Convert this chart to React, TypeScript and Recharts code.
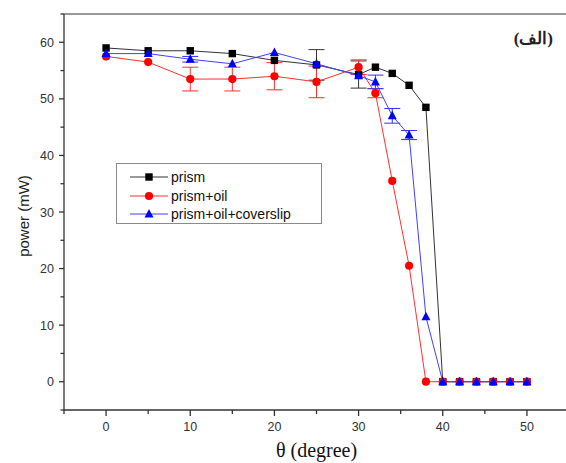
import React from "react";
import { LineChart, Line, XAxis, YAxis, ErrorBar, Legend } from "recharts";

const angles = [0, 5, 10, 15, 20, 25, 30, 32, 34, 36, 38, 40, 42, 44, 46, 48, 50];
const prism = [59.0, 58.5, 58.5, 58.0, 56.8, 56.0, 54.3, 55.6, 54.5, 52.4, 48.5, 0, 0, 0, 0, 0, 0];
const prismOil = [57.5, 56.5, 53.5, 53.5, 54.0, 53.0, 55.6, 51.0, 35.5, 20.5, 0, 0, 0, 0, 0, 0, 0];
const prismOilCover = [58.0, 58.0, 57.0, 56.2, 58.2, 56.2, 54.1, 53.0, 47.0, 43.6, 11.5, 0, 0, 0, 0, 0, 0];
const prismErr = [null, null, null, null, null, 2.7, 2.4, null, null, null, null, null, null, null, null, null, null];
const prismOilErr = [null, null, 2.1, 2.1, 2.4, 2.8, 1.3, 0.8, null, null, null, null, null, null, null, null, null];
const prismOilCoverErr = [null, null, 0.5, null, null, null, null, 1.2, 1.3, 0.8, null, null, null, null, null, null, null];

const xTicks = [-5, 0, 5, 10, 15, 20, 25, 30, 35, 40, 45, 50, 55];
const yTicks = [-5, 0, 5, 10, 15, 20, 25, 30, 35, 40, 45, 50, 55, 60, 65];
const xLabels = [0, 10, 20, 30, 40, 50];
const yLabels = [0, 10, 20, 30, 40, 50, 60];

const seriesNames = ["prism", "prism+oil", "prism+oil+coverslip"];
const seriesColors = ["#000000", "#ff0000", "#0000ff"];
const lineColors = ["#333333", "#ff3030", "#4040ff"];
const errColors = ["#333333", "#ff3030", "#3030ff"];

const data = angles.map((a, i) => ({
  angle: a,
  prism: prism[i],
  prismOil: prismOil[i],
  prismOilCover: prismOilCover[i],
  prismErr: prismErr[i],
  prismOilErr: prismOilErr[i],
  prismOilCoverErr: prismOilCoverErr[i],
}));

const FONT = "'Liberation Sans', Arial, sans-serif";

function Marker({ kind, cx, cy, color }: { kind: number; cx: number; cy: number; color: string }) {
  if (kind === 0) return <rect x={cx - 3.7} y={cy - 3.7} width={7.4} height={7.4} fill={color} />;
  if (kind === 1) return <circle cx={cx} cy={cy} r={4.1} fill={color} />;
  return <polygon points={`${cx},${cy - 5} ${cx - 4.5},${cy + 3.5} ${cx + 4.5},${cy + 3.5}`} fill={color} />;
}

const makeDot = (kind: number) => (props: any) => {
  const { cx, cy, index } = props;
  if (cx == null || cy == null) return <g key={`d${kind}-${index}`} />;
  return (
    <g key={`d${kind}-${index}`}>
      <Marker kind={kind} cx={cx} cy={cy} color={seriesColors[kind]} />
    </g>
  );
};

const XTick = (props: any) => {
  const { x, y, payload } = props;
  const v = payload.value;
  const major = v % 10 === 0;
  return (
    <g>
      <line x1={x} y1={y} x2={x} y2={y + (major ? 6 : 4)} stroke="#333" strokeWidth={1.3} />
      {xLabels.includes(v) && (
        <text x={x} y={y + 21} textAnchor="middle" fontSize={12.5} fontFamily={FONT} fill="#333">
          {v}
        </text>
      )}
    </g>
  );
};

const YTick = (props: any) => {
  const { x, y, payload } = props;
  const v = payload.value;
  const major = v % 10 === 0;
  return (
    <g>
      <line x1={x - (major ? 5 : 3.5)} y1={y} x2={x} y2={y} stroke="#333" strokeWidth={1.3} />
      {yLabels.includes(v) && (
        <text x={x - 10} y={y + 4.5} textAnchor="end" fontSize={12.5} fontFamily={FONT} fill="#333">
          {v}
        </text>
      )}
    </g>
  );
};

const LegendBox = () => (
  <div
    style={{
      width: 206,
      height: 61,
      border: "1px solid #8a8a8a",
      background: "#fff",
      boxSizing: "border-box",
      position: "relative",
    }}
  >
    {seriesNames.map((name, i) => (
      <div key={name} style={{ position: "absolute", left: 0, top: 4 + i * 18.5, height: 18, width: 206 }}>
        <svg width={52} height={18} style={{ position: "absolute", left: 0, top: 0 }}>
          <line x1={13} y1={9} x2={51} y2={9} stroke={lineColors[i]} strokeWidth={1} />
          <Marker kind={i} cx={32} cy={9} color={seriesColors[i]} />
        </svg>
        <span
          style={{
            position: "absolute",
            left: 54,
            top: 0,
            lineHeight: "18px",
            fontSize: 14,
            fontFamily: FONT,
            color: "#111",
            whiteSpace: "nowrap",
          }}
        >
          {name}
        </span>
      </div>
    ))}
  </div>
);

export default function App() {
  return (
    <div style={{ position: "absolute", left: 0, top: 0, width: 566, height: 463, overflow: "hidden", background: "#fff" }}>
      <LineChart
        width={580}
        height={463}
        data={data}
        margin={{ top: 13, right: 11, bottom: 13, left: 4 }}
      >
        <XAxis
          xAxisId="top"
          orientation="top"
          dataKey="angle"
          type="number"
          domain={[-5, 55]}
          height={1}
          tick={false}
          tickLine={false}
          axisLine={{ stroke: "#777", strokeWidth: 1.3 }}
        />
        <XAxis
          dataKey="angle"
          type="number"
          domain={[-5, 55]}
          ticks={xTicks}
          interval={0}
          height={40}
          tickSize={0}
          tickMargin={0}
          tickLine={false}
          tick={<XTick />}
          axisLine={{ stroke: "#333", strokeWidth: 1.3 }}
          label={{
            content: (p: any) => {
              const vb = p.viewBox;
              return (
                <text
                  x={vb.x + vb.width / 2}
                  y={457}
                  textAnchor="middle"
                  fontSize={20}
                  fontFamily="'Liberation Serif', 'Times New Roman', serif"
                  fill="#111"
                >
                  θ (degree)
                </text>
              );
            },
          }}
        />
        <YAxis
          type="number"
          domain={[-5, 65]}
          ticks={yTicks}
          interval={0}
          width={60}
          tickSize={0}
          tickMargin={0}
          tickLine={false}
          tick={<YTick />}
          axisLine={{ stroke: "#333", strokeWidth: 1.3 }}
          label={{
            content: (p: any) => {
              const vb = p.viewBox;
              const cy = vb.y + vb.height / 2 + 4;
              return (
                <text
                  x={23}
                  y={cy}
                  transform={`rotate(-90, 23, ${cy})`}
                  textAnchor="middle"
                  dominantBaseline="central"
                  fontSize={15}
                  fontFamily={FONT}
                  fill="#222"
                >
                  power (mW)
                </text>
              );
            },
          }}
        />
        <Legend
          layout="vertical"
          align="center"
          verticalAlign="middle"
          wrapperStyle={{ left: 116, top: 163, width: 206 }}
          content={() => <LegendBox />}
        />
        <Line
          dataKey="prism"
          name="prism"
          stroke={lineColors[0]}
          strokeWidth={1}
          dot={makeDot(0)}
          activeDot={false}
          isAnimationActive={false}
        >
          <ErrorBar dataKey="prismErr" direction="y" width={8} stroke={errColors[0]} strokeWidth={1} />
        </Line>
        <Line
          dataKey="prismOil"
          name="prism+oil"
          stroke={lineColors[1]}
          strokeWidth={1}
          dot={makeDot(1)}
          activeDot={false}
          isAnimationActive={false}
        >
          <ErrorBar dataKey="prismOilErr" direction="y" width={8} stroke={errColors[1]} strokeWidth={1} />
        </Line>
        <Line
          dataKey="prismOilCover"
          name="prism+oil+coverslip"
          stroke={lineColors[2]}
          strokeWidth={1}
          dot={makeDot(2)}
          activeDot={false}
          isAnimationActive={false}
        >
          <ErrorBar dataKey="prismOilCoverErr" direction="y" width={8} stroke={errColors[2]} strokeWidth={1} />
        </Line>
      </LineChart>
      <div
        style={{
          position: "absolute",
          right: 13,
          top: 28,
          direction: "rtl",
          fontFamily: "'Liberation Serif', 'Times New Roman', serif",
          fontSize: 17,
          fontWeight: "bold",
          color: "#222",
        }}
      >
        (الف)
      </div>
    </div>
  );
}
